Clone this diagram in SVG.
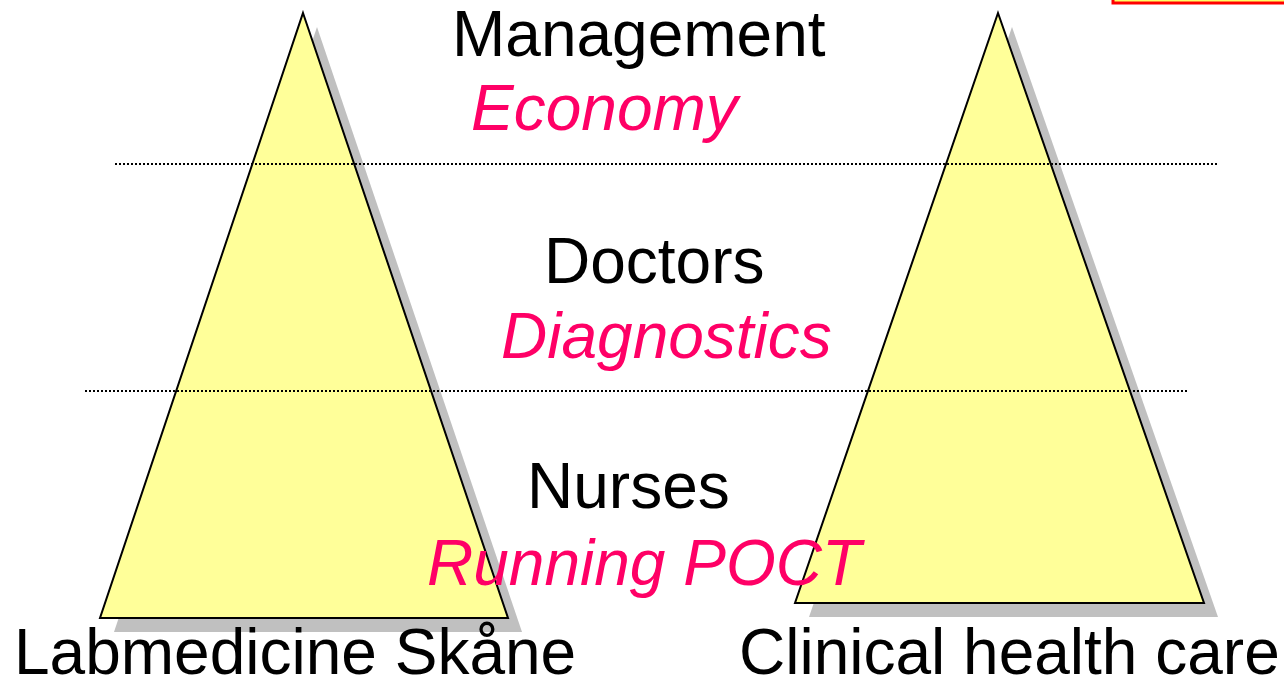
<svg xmlns="http://www.w3.org/2000/svg" width="1284" height="681" viewBox="0 0 1284 681">
<style>
.tri{fill:#FFFF99;stroke:#000;stroke-width:2;stroke-linejoin:miter}
.sh{fill:#C0C0C0}
.dot{stroke:#000;stroke-width:2;stroke-dasharray:2 2;fill:none}
.t{font-family:"Liberation Sans",Arial,sans-serif;font-size:64px;fill:#000}
.p{font-family:"Liberation Sans",Arial,sans-serif;font-size:64px;font-style:italic;fill:#FF0066}
</style>
<rect x="1113" y="-10" width="180" height="13" fill="#FFFF66" stroke="#FF0000" stroke-width="3"/>
<g id="left-pyramid">
<polygon class="sh" points="317,27 522,632 114,632"/>
<polygon class="tri" points="303,13 508,618 100,618"/>
</g>
<g id="right-pyramid">
<polygon class="sh" points="1012,27 1218,617 809,617"/>
<polygon class="tri" points="998,13 1204,603 795,603"/>
</g>
<g id="connectors">
<line class="dot" x1="115" y1="164" x2="1217" y2="164"/>
<line class="dot" x1="85" y1="391" x2="1187" y2="391"/>
</g>
<g id="labels">
<text class="t" x="452" y="56">Management</text>
<text class="p" x="471" y="130">Economy</text>
<text class="t" x="544" y="283">Doctors</text>
<text class="p" x="501" y="358">Diagnostics</text>
<text class="t" x="527" y="508">Nurses</text>
<text class="p" x="427" y="585">Running POCT</text>
<text class="t" x="14" y="674">Labmedicine Skåne</text>
<text class="t" x="739" y="674">Clinical health care</text>
</g>
</svg>
